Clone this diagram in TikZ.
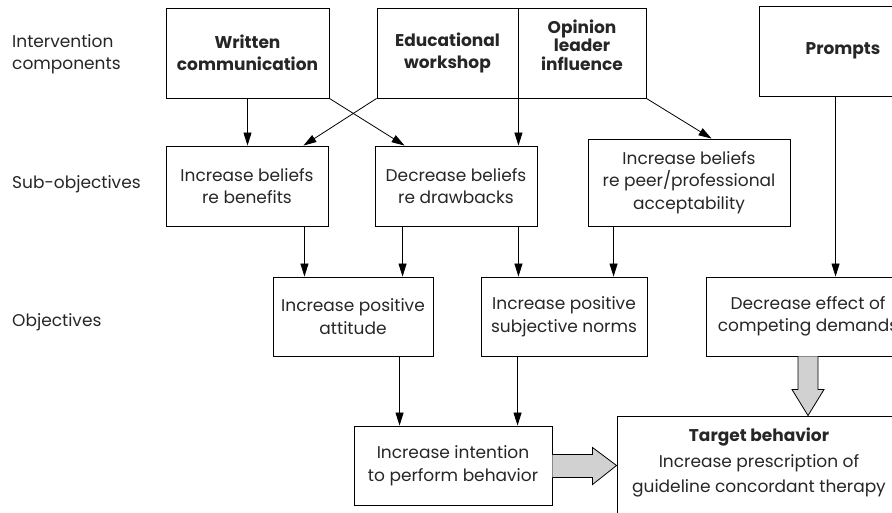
\documentclass[tikz,border=0pt]{standalone}
\usepackage{fontspec}
\setmainfont{Poppins}
\usetikzlibrary{arrows.meta,calc}
\begin{document}
\begin{tikzpicture}[x=1pt,y=-1pt,
  box/.style={draw=black,line width=0.9pt,align=center,inner sep=0pt,
    font=\fontsize{17}{22.5}\selectfont,text=black!85},
  hbox/.style={box,font=\fontsize{17}{22}\selectfont\bfseries},
  lbl/.style={anchor=west,align=left,inner sep=0pt,font=\fontsize{17}{22}\selectfont,text=black!85},
  arr/.style={line width=0.8pt,-{Triangle[length=13pt,width=8pt]}},
  fat/.style={draw=black,line width=0.8pt,fill=black!18,line join=miter}]
\useasboundingbox (0,0) rectangle (892,512);
\clip (0,0) rectangle (892,512);
% labels
\node[lbl] (l1) at (12,54) {Intervention\\components};
\node[lbl] (l2) at (12,184) {Sub-objectives};
\node[lbl] (l3) at (12,322) {Objectives};
% intervention components
\node[hbox,minimum width=163,minimum height=90] (written) at (247.5,53) {Written\\communication};
\node[hbox,minimum width=141,minimum height=90] (edu) at (447.5,53) {Educational\\workshop};
\node[hbox,minimum width=128,minimum height=90] (opinion) at (582,53)
  {\raisebox{5pt}[\height][\depth]{\fontsize{17}{18.5}\selectfont\bfseries\begin{tabular}{@{}c@{}}Opinion\\leader\\influence\end{tabular}}};
\node[hbox,minimum width=168,minimum height=90] (prompts) at (843,51) {Prompts};
% sub-objectives
\node[box,minimum width=162,minimum height=80] (benefits) at (247,186) {Increase beliefs\\re benefits};
\node[box,minimum width=162,minimum height=80] (drawbacks) at (456,186) {Decrease beliefs\\re drawbacks};
\node[box,minimum width=202,minimum height=87] (peer) at (689,182.5) {Increase beliefs\\re peer/professional\\acceptability};
% objectives
\node[box,minimum width=160,minimum height=79] (attitude) at (353,316.5) {Increase positive\\attitude};
\node[box,minimum width=166,minimum height=79] (norms) at (564,316.5) {Increase positive\\subjective norms};
\node[box,minimum width=204,minimum height=79] (effect) at (808,316.5) {Decrease effect of\\competing demands};
% intention and target
\node[box,minimum width=198,minimum height=79] (intent) at (453,465.5) {Increase intention\\to perform behavior};
\node[box,minimum width=284,minimum height=100,font=\fontsize{17}{25.5}\selectfont] (target) at (759,466)
  {\raisebox{4pt}[\height][\depth]{\begin{tabular}{@{}c@{}}{\bfseries Target behavior}\\Increase prescription of\\guideline concordant therapy\end{tabular}}};
% arrows row 1 -> 2
\draw[arr] (written.south) -- (written.south |- benefits.north);
\draw[arr] (written.south east) -- ($(drawbacks.north west)+(30,0)$);
\draw[arr] (edu.south west) -- ($(benefits.north east)+(-25,0)$);
\draw[arr] (edu.south east) -- (edu.south east |- drawbacks.north);
\draw[arr] (opinion.south east) -- ($(peer.north west)+(124,0)$);
\coordinate (p1) at ($(prompts.south west)+(77,0)$);
\draw[arr] (p1) -- (p1 |- effect.north);
% arrows row 2 -> 3
\coordinate (b1) at ($(benefits.south east)+(-24,0)$);
\draw[arr] (b1) -- (b1 |- attitude.north);
\coordinate (d1) at ($(drawbacks.south west)+(28,0)$);
\draw[arr] (d1) -- (d1 |- attitude.north);
\coordinate (d2) at ($(drawbacks.south east)+(-19,0)$);
\draw[arr] (d2) -- (d2 |- norms.north);
\coordinate (q1) at ($(peer.south west)+(26,0)$);
\draw[arr] (q1) -- (q1 |- norms.north);
% arrows row 3 -> 4
\coordinate (a1) at ($(attitude.south west)+(127,0)$);
\draw[arr] (a1) -- (a1 |- intent.north);
\coordinate (n1) at ($(norms.south west)+(37,0)$);
\draw[arr] (n1) -- (n1 |- intent.north);
% fat arrows
\coordinate (h0) at (intent.east);
\coordinate (h1) at (intent.east -| target.west);
\draw[fat] ($(h0)+(0,-11)$) -- ($(h1)+(-24,-11)$) -- ($(h1)+(-24,-18)$) -- (h1)
  -- ($(h1)+(-24,19)$) -- ($(h1)+(-24,12)$) -- ($(h0)+(0,12)$);
\coordinate (v0) at (effect.south);
\coordinate (v1) at (effect.south |- target.north);
\draw[fat] ($(v0)+(-10,0)$) -- ($(v1)+(-10,-26)$) -- ($(v1)+(-16,-26)$) -- (v1)
  -- ($(v1)+(16,-26)$) -- ($(v1)+(10,-26)$) -- ($(v0)+(10,0)$);
\end{tikzpicture}
\end{document}
